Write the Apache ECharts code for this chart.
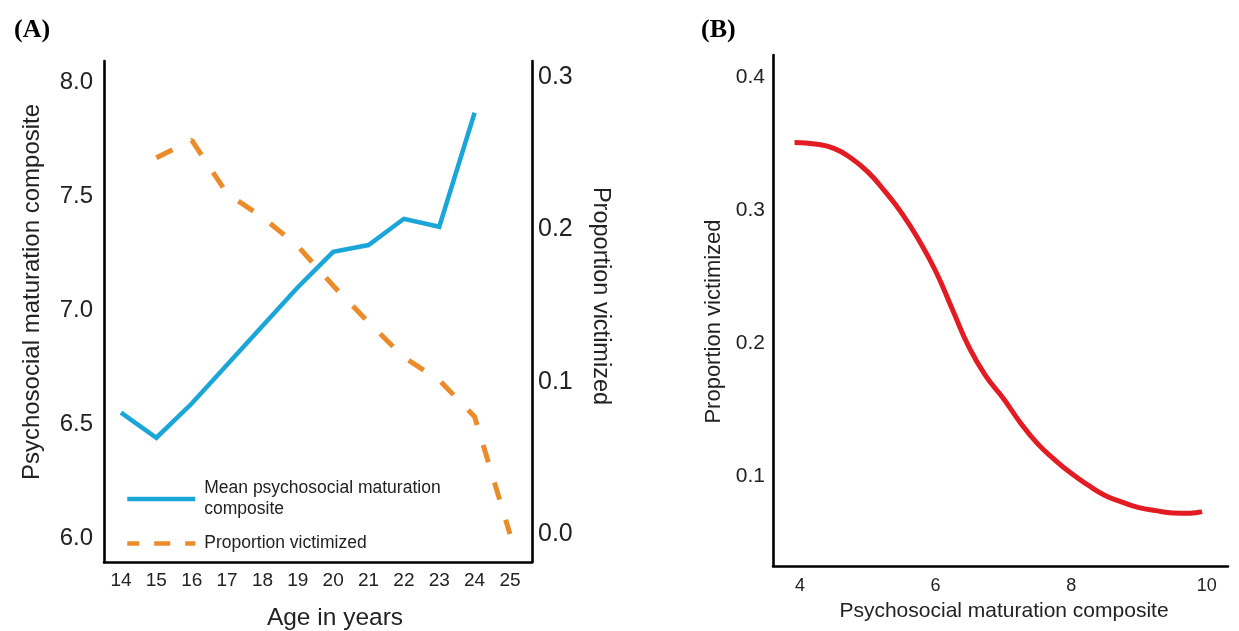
<!DOCTYPE html>
<html>
<head>
<meta charset="utf-8">
<script src="https://cdn.jsdelivr.net/npm/echarts@6/dist/echarts.min.js"></script>
<style>
  html, body { margin: 0; padding: 0; background: #fff; }
  #chart { width: 1239px; height: 631px; }
</style>
</head>
<body>
<div id="chart"></div>
<script>
// ---------- Panel A data ----------
const ages = [14, 15, 16, 17, 18, 19, 20, 21, 22, 23, 24, 25];
const meanPsychosocial = [6.55, 6.44, 6.59, 6.76, 6.93, 7.10, 7.255, 7.285, 7.40, 7.365, 7.865, null];
const proportionVictimizedA = [null, 0.247, 0.2585, 0.2235, 0.208, 0.189, 0.163, 0.139, 0.116, 0.101, 0.077, 0.0];
const ageTicks = [14, 15, 16, 17, 18, 19, 20, 21, 22, 23, 24, 25];
const leftTicksA = [6.0, 6.5, 7.0, 7.5, 8.0];
const rightTicksA = [0.0, 0.1, 0.2, 0.3];

// ---------- Panel B data ----------
const maturationB = [3.92, 4.25, 4.5, 4.75, 5.0, 5.25, 5.5, 5.75, 6.0, 6.25, 6.5, 6.75, 7.0, 7.25, 7.5, 7.75, 8.0, 8.25, 8.5, 8.75, 9.0, 9.25, 9.5, 9.75, 9.93];
const proportionB = [0.351, 0.3497, 0.3466, 0.3395, 0.329, 0.3145, 0.298, 0.278, 0.2545, 0.2255, 0.1965, 0.175, 0.1588, 0.1406, 0.125, 0.113, 0.1025, 0.0936, 0.0859, 0.0809, 0.0768, 0.0745, 0.0728, 0.0726, 0.0737];
const xTicksB = [4, 6, 8, 10];
const yTicksB = [0.1, 0.2, 0.3, 0.4];

const FONT = 'Liberation Sans';
const BLUE = '#1aa6d8';
const ORANGE = '#ec8b2a';
const RED = '#e31b23';

const pair = (xs, ys) => xs.map((x, i) => [x, ys[i]]).filter(p => p[1] !== null && p[1] !== undefined);

const axisLineStyle = { show: true, onZero: false, lineStyle: { color: '#000', width: 2.6 } };

const chart = echarts.init(document.getElementById('chart'), null, { renderer: 'canvas' });

const option = {
  backgroundColor: '#fff',
  animation: false,
  title: [
    { text: '(A)', left: 9, top: 12, textStyle: { fontFamily: 'Liberation Serif', fontWeight: 'bold', fontSize: 26, color: '#000' } },
    { text: '(B)', left: 696, top: 12, textStyle: { fontFamily: 'Liberation Serif', fontWeight: 'bold', fontSize: 26, color: '#000' } }
  ],
  grid: [
    { left: 104, right: 707, top: 61, bottom: 69, outerBoundsMode: 'none', containLabel: false },
    { left: 773, right: 11, top: 55, bottom: 65, outerBoundsMode: 'none', containLabel: false }
  ],
  legend: {
    data: [
      { name: 'Mean psychosocial maturation composite' },
      { name: 'Proportion victimized', lineStyle: { type: [16, 15], dashOffset: 4, width: 4.5 } }
    ],
    orient: 'vertical',
    left: 120,
    top: 473,
    itemWidth: 68,
    itemHeight: 14,
    itemGap: 13,
    selectedMode: false,
    itemStyle: { color: 'rgba(0,0,0,0)', borderWidth: 0, opacity: 0 },
    lineStyle: { width: 4.5 },
    formatter: function (n) {
      return n === 'Mean psychosocial maturation composite' ? 'Mean psychosocial maturation\ncomposite' : n;
    },
    textStyle: { fontFamily: FONT, fontSize: 17.5, lineHeight: 21, color: '#222', padding: [0, 0, 0, 4] }
  },
  xAxis: [
    {
      type: 'value', gridIndex: 0, min: 13.519, max: 25.623,
      name: 'Age in years', nameLocation: 'middle', nameGap: 44,
      nameTextStyle: { fontFamily: FONT, fontSize: 24.5, color: '#222', padding: [0, 0, 0, 34] },
      axisLine: axisLineStyle, axisTick: { show: false }, splitLine: { show: false },
      axisLabel: { customValues: ageTicks, fontFamily: FONT, fontSize: 19, color: '#222', margin: 9 }
    },
    {
      type: 'value', gridIndex: 1, min: 3.602, max: 10.313,
      name: 'Psychosocial maturation composite', nameLocation: 'middle', nameGap: 35,
      nameTextStyle: { fontFamily: FONT, fontSize: 21, color: '#222', padding: [0, 0, 0, 7] },
      axisLine: axisLineStyle, axisTick: { show: false }, splitLine: { show: false },
      axisLabel: { customValues: xTicksB, fontFamily: FONT, fontSize: 18, color: '#222', margin: 11 }
    }
  ],
  yAxis: [
    {
      type: 'value', gridIndex: 0, position: 'left', min: 5.895, max: 8.092,
      name: 'Psychosocial maturation composite', nameLocation: 'middle', nameGap: 60,
      nameTextStyle: { fontFamily: FONT, fontSize: 24, color: '#222', padding: [0, 0, 0, 39] },
      axisLine: axisLineStyle, axisTick: { show: false }, splitLine: { show: false },
      axisLabel: { customValues: leftTicksA, formatter: v => v.toFixed(1), fontFamily: FONT, fontSize: 24, color: '#222', margin: 11 }
    },
    {
      type: 'value', gridIndex: 0, position: 'right', min: -0.0184, max: 0.3105,
      name: 'Proportion victimized', nameLocation: 'middle', nameGap: 56, nameRotate: -90,
      nameTextStyle: { fontFamily: FONT, fontSize: 23.5, color: '#222', padding: [0, 31, 0, 0] },
      axisLine: axisLineStyle, axisTick: { show: false }, splitLine: { show: false },
      axisLabel: { customValues: rightTicksA, formatter: v => v.toFixed(1), fontFamily: FONT, fontSize: 25, color: '#222', margin: 6 }
    },
    {
      type: 'value', gridIndex: 1, position: 'left', min: 0.0329, max: 0.4168,
      name: 'Proportion victimized', nameLocation: 'middle', nameGap: 48,
      nameTextStyle: { fontFamily: FONT, fontSize: 22, color: '#222', padding: [0, 22, 0, 0] },
      axisLine: axisLineStyle, axisTick: { show: false }, splitLine: { show: false },
      axisLabel: { customValues: yTicksB, formatter: v => v.toFixed(1), fontFamily: FONT, fontSize: 21, color: '#222', margin: 8 }
    }
  ],
  series: [
    {
      name: 'Mean psychosocial maturation composite', type: 'line',
      xAxisIndex: 0, yAxisIndex: 0,
      data: pair(ages, meanPsychosocial),
      symbol: 'none', color: BLUE,
      lineStyle: { color: BLUE, width: 4.5, join: 'miter' }
    },
    {
      name: 'Proportion victimized', type: 'line',
      xAxisIndex: 0, yAxisIndex: 1,
      data: pair(ages, proportionVictimizedA),
      symbol: 'none', color: ORANGE,
      lineStyle: { color: ORANGE, width: 5, type: [18, 21] }
    },
    {
      name: 'Proportion victimized (B)', type: 'line',
      xAxisIndex: 1, yAxisIndex: 2,
      data: pair(maturationB, proportionB),
      symbol: 'none', smooth: 0.5, color: RED,
      lineStyle: { color: RED, width: 5 }
    }
  ]
};

chart.setOption(option);
</script>
</body>
</html>
